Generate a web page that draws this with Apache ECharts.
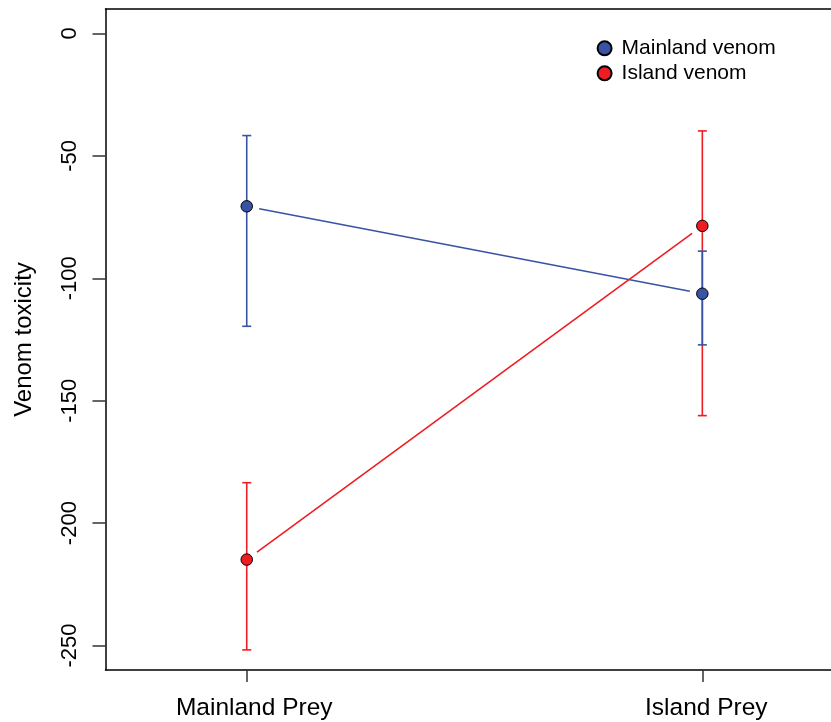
<!DOCTYPE html>
<html>
<head>
<meta charset="utf-8">
<script src="https://cdn.jsdelivr.net/npm/echarts@6/dist/echarts.min.js"></script>
<style>
html,body{margin:0;padding:0;background:#fff;}
#chart{width:831px;height:722px;}
</style>
</head>
<body>
<div id="chart"></div>
<script>
// ---- data ----
const categories = ['Mainland Prey', 'Island Prey'];
const seriesNames = ['Mainland venom', 'Island venom'];
const mainlandMean  = [-70.6, -106.3];
const mainlandUpper = [-41.7, -88.9];
const mainlandLower = [-119.6, -127.2];
const islandMean    = [-214.9, -78.6];
const islandUpper   = [-183.5, -39.8];
const islandLower   = [-251.8, -156.1];
const yTicks = [0, -50, -100, -150, -200, -250];

const BLUE = '#3953a4';
const RED = '#ee1d23';
const FONT = 'Liberation Sans, Arial, Helvetica, sans-serif';

function pts(mean) { return mean.map((v, i) => [i + 1, v]); }
function bars(lo, hi) { return lo.map((v, i) => [i + 1, v, hi[i]]); }
function segs(mean) {
  const out = [];
  for (let i = 0; i < mean.length - 1; i++) out.push([i + 1, mean[i], i + 2, mean[i + 1]]);
  return out;
}

const GAP = 12.7;
function gapLine(color) {
  return function (params, api) {
    const p1 = api.coord([api.value(0), api.value(1)]);
    const p2 = api.coord([api.value(2), api.value(3)]);
    const dx = p2[0] - p1[0], dy = p2[1] - p1[1];
    const len = Math.sqrt(dx * dx + dy * dy);
    const ux = dx / len, uy = dy / len;
    return {
      type: 'line',
      shape: { x1: p1[0] + ux * GAP, y1: p1[1] + uy * GAP, x2: p2[0] - ux * GAP, y2: p2[1] - uy * GAP },
      style: { stroke: color, lineWidth: 1.6 }
    };
  };
}
function errBar(color) {
  return function (params, api) {
    const lo = api.coord([api.value(0), api.value(1)]);
    const hi = api.coord([api.value(0), api.value(2)]);
    const w = 4.5;
    const st = { stroke: color, lineWidth: 1.6 };
    return {
      type: 'group',
      children: [
        { type: 'line', shape: { x1: lo[0], y1: lo[1], x2: hi[0], y2: hi[1] }, style: st },
        { type: 'line', shape: { x1: lo[0] - w, y1: lo[1], x2: lo[0] + w, y2: lo[1] }, style: st },
        { type: 'line', shape: { x1: hi[0] - w, y1: hi[1], x2: hi[0] + w, y2: hi[1] }, style: st }
      ]
    };
  };
}

const chart = echarts.init(document.getElementById('chart'), null, { renderer: 'canvas' });
chart.setOption({
  animation: false,
  backgroundColor: '#fff',
  textStyle: { fontFamily: FONT },
  grid: { left: 105.5, top: 9, right: 0, height: 661, show: false },
  legend: {
    orient: 'vertical',
    left: 591.6, top: 32.8,
    itemWidth: 24, itemHeight: 14, itemGap: 4,
    data: seriesNames.map(n => ({ name: n, icon: 'circle' })),
    textStyle: { fontSize: 21, lineHeight: 21, color: '#000', fontFamily: FONT },
    selectedMode: false
  },
  xAxis: [{
    type: 'value', min: 0.69, max: 2.2824, position: 'bottom',
    splitLine: { show: false },
    axisLine: { show: true, onZero: false, lineStyle: { color: '#000', width: 1.5 } },
    axisTick: { show: true, length: 12, customValues: [1, 2], lineStyle: { color: '#333', width: 1.5 } },
    axisLabel: {
      customValues: [1, 2], margin: 26, fontSize: 24.5, color: '#000', fontFamily: FONT,
      formatter: v => (Math.round(v) === 1 ? '{a|' : '{b|') + categories[Math.round(v) - 1] + '}',
      rich: {
        a: { fontSize: 24.5, color: '#000', fontFamily: FONT, padding: [0, 0, 0, 15] },
        b: { fontSize: 24.5, color: '#000', fontFamily: FONT, padding: [0, 0, 0, 8] }
      }
    }
  }, {
    type: 'value', min: 0.69, max: 2.2824, position: 'top',
    splitLine: { show: false },
    axisLine: { show: true, onZero: false, lineStyle: { color: '#000', width: 1.5 } },
    axisTick: { show: false }, axisLabel: { show: false }
  }],
  yAxis: {
    type: 'value', min: -260, max: 10,
    name: 'Venom toxicity', nameLocation: 'middle', nameRotate: 90, nameGap: 69,
    nameTextStyle: { fontSize: 24, color: '#000', fontFamily: FONT },
    splitLine: { show: false },
    axisLine: { show: true, onZero: false, lineStyle: { color: '#000', width: 1.5 } },
    axisTick: { show: true, length: 13, customValues: yTicks, lineStyle: { color: '#333', width: 1.5 } },
    axisLabel: {
      customValues: yTicks, rotate: 90, margin: 25, fontSize: 22, color: '#000', fontFamily: FONT
    }
  },
  series: [
    { type: 'custom', name: 'mainland-line', renderItem: gapLine(BLUE), data: segs(mainlandMean),
      encode: { x: [0, 2], y: [1, 3] }, z: 2, silent: true },
    { type: 'custom', name: 'island-line', renderItem: gapLine(RED), data: segs(islandMean),
      encode: { x: [0, 2], y: [1, 3] }, z: 2, silent: true },
    { type: 'custom', name: 'island-err', renderItem: errBar(RED), data: bars(islandLower, islandUpper),
      encode: { x: 0, y: [1, 2] }, z: 3, silent: true },
    { type: 'custom', name: 'mainland-err', renderItem: errBar(BLUE), data: bars(mainlandLower, mainlandUpper),
      encode: { x: 0, y: [1, 2] }, z: 4, silent: true },
    { type: 'scatter', name: seriesNames[0], data: pts(mainlandMean), symbol: 'circle', symbolSize: 11.5,
      itemStyle: { color: BLUE, borderColor: '#000', borderWidth: 1, opacity: 1 }, z: 5 },
    { type: 'scatter', name: seriesNames[1], data: pts(islandMean), symbol: 'circle', symbolSize: 11.5,
      itemStyle: { color: RED, borderColor: '#000', borderWidth: 1, opacity: 1 }, z: 5 }
  ]
});
</script>
</body>
</html>
